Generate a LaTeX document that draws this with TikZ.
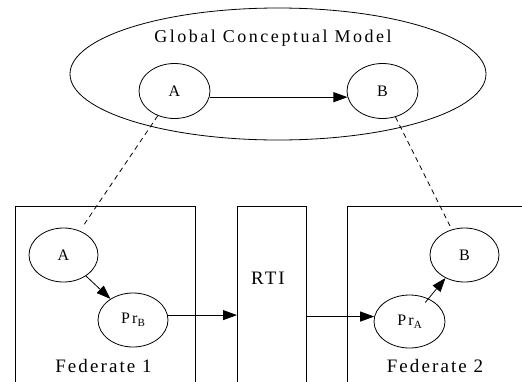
\documentclass[tikz,border=0pt]{standalone}
\usepackage{fontspec}
\setmainfont{Liberation Serif}
\newfontfamily\spc[LetterSpace=14]{Liberation Serif}
\newfontfamily\spcw[LetterSpace=11]{Liberation Serif}
\usetikzlibrary{shapes.geometric,arrows.meta}
\newcommand{\subB}[1]{\raisebox{-3pt}{\fontsize{11}{11}\selectfont #1}}
\tikzset{
  every picture/.style={line width=0.8pt},
  ell/.style={draw, ellipse, inner sep=0pt, minimum width=70pt, minimum height=54pt, font=\spc\fontsize{16}{18}\selectfont},
  box/.style={draw, rectangle, inner sep=0pt, anchor=north west},
  lbl/.style={anchor=base, inner sep=0pt, font=\spc\fontsize{18}{20}\selectfont},
  flbl/.style={anchor=base, inner sep=0pt, font=\spcw\fontsize{19}{21}\selectfont},
  arr/.style={-{Triangle[length=14pt,width=10pt]}},
  dsh/.style={dash pattern=on 5pt off 4pt},
}
\begin{document}
\begin{tikzpicture}[x=1pt,y=-1pt]
\clip (0,0) rectangle (522,381);
% global model
\node[draw, ellipse, minimum width=416pt, minimum height=132pt, inner sep=0pt] (G) at (278,74) {};
\node[lbl] (Gt) at (273,42.5) {Global Conceptual Model};
\node[ell, minimum width=71pt, minimum height=55pt] (A1) at (174.5,91) {A};
\node[ell, minimum width=71pt, minimum height=55pt] (B1) at (382.5,91) {B};
\draw[arr] (A1.-10) -- (B1.190);
% boxes
\node[box, minimum width=180pt, minimum height=200pt] (F1) at (15,206) {};
\node[box, minimum width=69pt, minimum height=200pt] (RTI) at (237,206) {};
\node[box, minimum width=200pt, minimum height=200pt] (F2) at (347,206) {};
\node[flbl] (F1t) at (103.5,372) {Federate 1};
\node[flbl] (F2t) at (435,372) {Federate 2};
\node[flbl] (RTIt) at (268,284) {RTI};
% federate 1 nodes
\node[ell, minimum width=69pt] (A2) at (63.5,255) {A};
\node[ell] (PrB) at (133,320) {Pr\subB{B}};
% federate 2 nodes
\node[ell, minimum width=69pt] (B2) at (464.5,255) {B};
\node[ell, minimum width=71pt, minimum height=53pt] (PrA) at (409.5,321.5) {Pr\subB{A}};
% connectors
\draw[arr] (A2) -- (PrB);
\draw[arr] (PrB.8) -- (PrB.8 -| RTI.west);
\draw[arr] (RTI.east |- PrA.172) -- (PrA.172);
\draw[arr, shorten <=-5pt] (PrA) -- (B2);
\draw[dsh, shorten >=4pt] (A1) -- (A2);
\draw[dsh, shorten >=4pt] (B1) -- (B2);
\end{tikzpicture}
\end{document}
